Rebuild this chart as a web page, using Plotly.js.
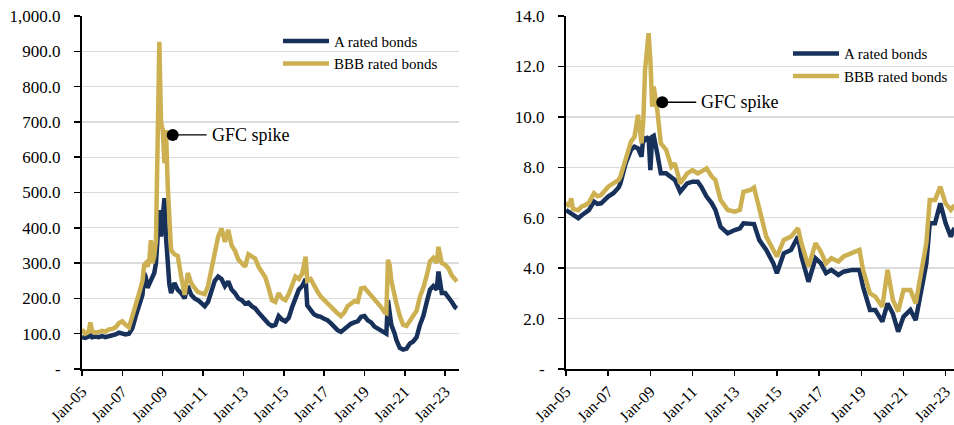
<!DOCTYPE html>
<html>
<head>
<meta charset="utf-8">
<script src="https://cdn.plot.ly/plotly-3.0.1.min.js"></script>
<style>
html,body{margin:0;padding:0;background:#fff;}
#chart{width:954px;height:425px;}
</style>
</head>
<body>
<div id="chart"></div>
<script>
// ---------- DATA ----------
// Left panel: credit spreads (bps)
var spreadDates = ['2005-01','2005-03','2005-05','2005-06','2005-07','2005-09','2005-11','2006-01','2006-03','2006-05','2006-07','2006-09','2006-11','2007-01','2007-03','2007-05','2007-07','2007-09','2007-11','2008-01','2008-02','2008-03','2008-04','2008-05','2008-06','2008-07','2008-08','2008-09','2008-10','2008-11','2008-12','2009-01','2009-02','2009-03','2009-04','2009-05','2009-06','2009-08','2009-10','2009-12','2010-02','2010-04','2010-06','2010-08','2010-10','2010-12','2011-02','2011-04','2011-06','2011-08','2011-10','2011-12','2012-02','2012-04','2012-06','2012-08','2012-10','2012-12','2013-02','2013-04','2013-06','2013-08','2013-10','2013-12','2014-02','2014-04','2014-06','2014-08','2014-10','2014-12','2015-02','2015-04','2015-06','2015-08','2015-10','2015-12','2016-02','2016-03','2016-05','2016-07','2016-09','2016-11','2017-01','2017-03','2017-05','2017-07','2017-09','2017-11','2018-01','2018-03','2018-05','2018-07','2018-09','2018-11','2019-01','2019-03','2019-05','2019-07','2019-09','2019-11','2020-01','2020-02','2020-03','2020-04','2020-05','2020-07','2020-08','2020-10','2020-12','2021-02','2021-04','2021-06','2021-08','2021-10','2021-12','2022-02','2022-04','2022-06','2022-08','2022-09','2022-11','2023-01','2023-03','2023-05','2023-07','2023-08'];
var spreadA = [90,88,92,95,90,92,90,93,90,92,95,98,103,100,98,100,115,150,180,210,272,260,230,240,250,265,272,300,380,450,375,440,484,375,300,240,215,244,224,215,200,235,210,200,195,185,178,190,225,250,262,255,235,248,225,215,200,195,185,188,178,172,160,148,140,128,122,125,150,140,135,145,175,205,225,235,255,180,165,155,150,148,142,138,130,120,110,105,112,122,128,132,135,148,150,138,132,120,115,110,103,100,195,160,125,100,82,60,55,58,72,78,90,125,150,190,225,235,225,276,215,215,205,190,175,172];
var spreadBBB = [112,100,105,132,108,103,105,108,106,112,113,118,130,135,125,118,150,180,215,250,295,300,290,305,365,300,320,365,600,927,700,677,583,677,520,400,337,325,320,262,210,272,243,230,218,215,212,235,280,340,375,398,360,394,350,335,310,300,290,325,318,313,290,275,260,230,195,190,215,200,195,212,235,262,255,270,318,250,255,235,220,205,195,185,175,165,158,150,160,178,185,192,190,228,230,220,210,195,185,175,160,158,309,295,250,200,186,150,125,122,138,150,165,205,230,265,305,315,300,346,300,295,285,265,252,248];

// Right panel: yields (%)
var yieldDates = ['2005-01','2005-03','2005-04','2005-05','2005-08','2005-10','2005-12','2006-02','2006-05','2006-07','2006-09','2007-01','2007-04','2007-07','2007-08','2007-11','2008-02','2008-04','2008-06','2008-08','2008-09','2008-10','2008-12','2009-01','2009-02','2009-03','2009-05','2009-07','2009-10','2010-01','2010-03','2010-06','2010-10','2011-01','2011-04','2011-06','2011-09','2011-12','2012-02','2012-05','2012-09','2013-01','2013-04','2013-06','2013-10','2013-12','2014-03','2014-07','2014-11','2015-01','2015-05','2015-09','2016-01','2016-03','2016-07','2016-11','2017-02','2017-05','2017-08','2017-12','2018-03','2018-08','2018-12','2019-02','2019-06','2019-09','2020-01','2020-04','2020-07','2020-10','2021-01','2021-05','2021-08','2021-11','2022-02','2022-04','2022-07','2022-10','2023-01','2023-04','2023-06'];
var yieldA = [6.3,6.2,6.2,6.1,5.98,6.1,6.18,6.3,6.64,6.55,6.57,6.84,6.97,7.2,7.36,8.16,8.69,8.82,8.75,8.42,9.21,9.08,9.21,7.89,9.21,9.25,8.54,7.76,7.76,7.63,7.5,7.03,7.36,7.43,7.43,7.23,6.84,6.57,6.31,5.64,5.38,5.51,5.58,5.78,5.78,5.75,5.12,4.72,4.19,3.8,4.59,4.72,5.25,4.46,3.46,4.39,4.19,3.8,3.93,3.73,3.86,3.93,3.93,3.26,2.34,2.34,1.88,2.6,2.2,1.48,2.07,2.34,1.94,3.13,4.19,5.78,5.78,6.57,5.78,5.25,5.6];
var yieldBBB = [6.6,6.45,6.77,6.35,6.3,6.45,6.5,6.6,6.97,6.85,6.9,7.23,7.36,7.5,7.63,8.29,9.02,9.21,10.08,8.95,9.88,11.86,13.32,12.26,10.4,11.2,10.26,8.95,8.69,8.02,8.16,7.36,7.76,7.89,7.76,7.83,7.96,7.63,7.5,6.7,6.31,6.24,6.31,7.03,7.1,7.2,6.31,5.25,4.72,4.46,5.12,5.25,5.58,4.99,4.06,4.99,4.65,4.19,4.39,4.26,4.46,4.59,4.72,3.93,3.0,2.87,2.47,3.93,2.74,2.28,3.13,3.13,2.6,3.8,4.99,6.7,6.7,7.23,6.57,6.31,6.5];

var seriesNames = ['A rated bonds', 'BBB rated bonds'];
var annotationText = 'GFC spike';
var gfcLeftDate = ['2009-07-01'], gfcLeftValue = [663];
var gfcRightDate = ['2009-07-26'], gfcRightValue = [10.58];

var xTickVals = ['2005-01-01','2007-01-01','2009-01-01','2011-01-01','2013-01-01','2015-01-01','2017-01-01','2019-01-01','2021-01-01','2023-01-01'];
var xTickText = ['Jan-05','Jan-07','Jan-09','Jan-11','Jan-13','Jan-15','Jan-17','Jan-19','Jan-21','Jan-23'];
var leftTickVals = [0,100,200,300,400,500,600,700,800,900,1000];
var leftTickText = ['-','100.0','200.0','300.0','400.0','500.0','600.0','700.0','800.0','900.0','1,000.0'];
var rightTickVals = [0,2,4,6,8,10,12,14];
var rightTickText = ['-','2.0','4.0','6.0','8.0','10.0','12.0','14.0'];

// ---------- STYLE ----------
var NAVY = '#17315b', GOLD = '#cdb052';
var FONT = '"Liberation Serif", "Times New Roman", "DejaVu Serif", serif';
var LW = 4.5;

var traces = [
  {x: spreadDates, y: spreadA, name: seriesNames[0], mode: 'lines', line: {color: NAVY, width: LW}, xaxis: 'x', yaxis: 'y', legend: 'legend'},
  {x: spreadDates, y: spreadBBB, name: seriesNames[1], mode: 'lines', line: {color: GOLD, width: LW}, xaxis: 'x', yaxis: 'y', legend: 'legend'},
  {x: yieldDates, y: yieldA, name: seriesNames[0], mode: 'lines', line: {color: NAVY, width: LW}, xaxis: 'x2', yaxis: 'y2', legend: 'legend2'},
  {x: yieldDates, y: yieldBBB, name: seriesNames[1], mode: 'lines', line: {color: GOLD, width: LW}, xaxis: 'x2', yaxis: 'y2', legend: 'legend2'},
  {x: gfcLeftDate, y: gfcLeftValue, mode: 'markers', marker: {color: '#000', size: 12}, showlegend: false, xaxis: 'x', yaxis: 'y', cliponaxis: false},
  {x: gfcRightDate, y: gfcRightValue, mode: 'markers', marker: {color: '#000', size: 12}, showlegend: false, xaxis: 'x2', yaxis: 'y2', cliponaxis: false}
];

function xAxis(domain, range) {
  return {
    type: 'date', domain: domain, range: range,
    tickmode: 'array', tickvals: xTickVals, ticktext: xTickText, tickangle: -45,
    ticklabeloverflow: 'allow',
    ticks: 'outside', ticklen: 5, tickwidth: 1.5, tickcolor: '#000',
    showline: true, linecolor: '#000', linewidth: 2,
    showgrid: false, zeroline: false,
    tickfont: {family: FONT, size: 16, color: '#000'}
  };
}
function yAxis(anchor, range, vals, text) {
  return {
    anchor: anchor, range: range,
    tickmode: 'array', tickvals: vals, ticktext: text,
    ticks: 'outside', ticklen: 6, tickwidth: 1.5, tickcolor: '#000',
    ticklabelstandoff: 10,
    showline: true, linecolor: '#000', linewidth: 2,
    showgrid: true, gridcolor: '#dcdcdc', gridwidth: 1.3, zeroline: false,
    tickfont: {family: FONT, size: 17, color: '#000'}
  };
}

var legendStyle = {
  orientation: 'v', xanchor: 'left', yanchor: 'top',
  bgcolor: 'rgba(0,0,0,0)', borderwidth: 0,
  font: {family: FONT, size: 15, color: '#000'},
  itemwidth: 46
};

var layout = {
  width: 954, height: 425,
  margin: {l: 0, r: 0, t: 16, b: 56},
  paper_bgcolor: '#fff', plot_bgcolor: '#fff',
  font: {family: FONT, color: '#000'},
  showlegend: true,
  hovermode: false,
  xaxis: xAxis([82/954, 459/954], ['2005-01-01', '2023-09-08']),
  yaxis: yAxis('x', [0, 1000], leftTickVals, leftTickText),
  xaxis2: xAxis([566/954, 1], ['2005-01-01', '2023-05-26']),
  yaxis2: yAxis('x2', [0, 14], rightTickVals, rightTickText),
  legend: Object.assign({}, legendStyle, {x: 278/954, y: 0.975}),
  legend2: Object.assign({}, legendStyle, {x: 788/954, y: 0.940}),
  annotations: [
    {xref: 'x', yref: 'y', x: gfcLeftDate[0], y: gfcLeftValue[0], text: annotationText,
     showarrow: true, arrowhead: 0, arrowwidth: 1.3, arrowcolor: '#000', ax: 34, ay: 0,
     xanchor: 'left', borderpad: 4, standoff: 0, font: {family: FONT, size: 18, color: '#000'}},
    {xref: 'x2', yref: 'y2', x: gfcRightDate[0], y: gfcRightValue[0], text: annotationText,
     showarrow: true, arrowhead: 0, arrowwidth: 1.3, arrowcolor: '#000', ax: 34, ay: 0,
     xanchor: 'left', borderpad: 4, standoff: 0, font: {family: FONT, size: 18, color: '#000'}}
  ]
};

Plotly.newPlot('chart', traces, layout, {staticPlot: true, displayModeBar: false});
</script>
</body>
</html>
